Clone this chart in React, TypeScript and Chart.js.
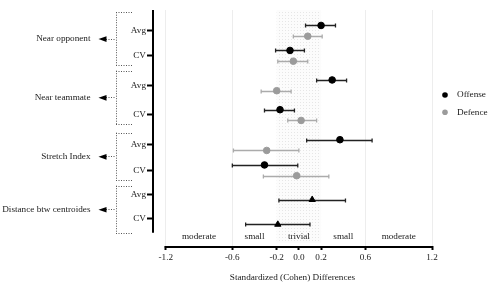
import React, { useEffect, useRef } from "react";
import { Chart, registerables } from "chart.js";

Chart.register(...registerables);

// ---- Data ----
const rowLabels = ["Avg", "CV", "Avg", "CV", "Avg", "CV", "Avg", "CV"];
// category positions of the rows on the (reversed) y scale
const rowPos = [1, 2, 3.18, 4.37, 5.57, 6.58, 7.54, 8.53];

const groupLabels = ["Near opponent", "Near teammate", "Stretch Index", "Distance btw centroides"];
const groupTop = [0.26, 2.6, 5.08, 7.2];
const groupBottom = [2.37, 4.73, 6.97, 9.08];

const offenseMean = [0.2, -0.08, 0.3, -0.17, 0.37, -0.31];
const offenseLo = [0.06, -0.21, 0.16, -0.31, 0.07, -0.6];
const offenseHi = [0.33, 0.05, 0.43, -0.04, 0.66, -0.01];

const defenceMean = [0.08, -0.05, -0.2, 0.02, -0.29, -0.02];
const defenceLo = [-0.05, -0.19, -0.34, -0.1, -0.59, -0.32];
const defenceHi = [0.21, 0.08, -0.07, 0.16, 0.0, 0.27];

const centroidMean = [0.12, -0.19];
const centroidLo = [-0.18, -0.48];
const centroidHi = [0.42, 0.1];

const xTicks = [-1.2, -0.6, -0.2, 0, 0.2, 0.6, 1.2];
const gridAt = [-1.2, -0.6, 0.6, 1.2];
const zoneBounds = [-1.2, -0.6, -0.2, 0.2, 0.6, 1.2];
const zoneLabels = ["moderate", "small", "trivial", "small", "moderate"];
const trivialBand = [-0.2, 0.2];

// ---- Styles ----
const FONT = "'Liberation Serif', 'Times New Roman', serif";
const FS = 9.2;
const TXT = "#1a1a1a";
const OFF_UP = -0.21;
const OFF_DOWN = 0.22;

let bandPattern: CanvasPattern | null = null;
function getPattern(ctx: CanvasRenderingContext2D) {
  if (bandPattern) return bandPattern;
  const c = document.createElement("canvas");
  c.width = 3;
  c.height = 3;
  const g = c.getContext("2d")!;
  g.fillStyle = "#fcfcfc";
  g.fillRect(0, 0, 3, 3);
  g.fillStyle = "#e6e6e6";
  g.fillRect(0, 0, 1, 1);
  bandPattern = ctx.createPattern(c, "repeat");
  return bandPattern;
}

const bandPlugin = {
  id: "band",
  beforeDatasetsDraw(chart: any) {
    const { ctx, chartArea } = chart;
    const xs = chart.scales.x;
    const x1 = xs.getPixelForValue(trivialBand[0]);
    const x2 = xs.getPixelForValue(trivialBand[1]);
    ctx.save();
    ctx.fillStyle = getPattern(ctx) || "#f4f4f4";
    ctx.fillRect(x1, chartArea.top, x2 - x1, chartArea.bottom - 3 - chartArea.top);
    ctx.restore();
  },
};

const errorBarPlugin = {
  id: "errorBars",
  beforeDatasetsDraw(chart: any) {
    const { ctx } = chart;
    const xs = chart.scales.x;
    const ys = chart.scales.y;
    chart.data.datasets.forEach((ds: any) => {
      if (!ds.errLo) return;
      ctx.save();
      ctx.strokeStyle = ds.errColor;
      ctx.lineWidth = 1.3;
      ds.data.forEach((p: any, i: number) => {
        const y = Math.round(ys.getPixelForValue(p.y)) + 0.5;
        const x1 = xs.getPixelForValue(ds.errLo[i]);
        const x2 = xs.getPixelForValue(ds.errHi[i]);
        ctx.beginPath();
        ctx.moveTo(x1, y);
        ctx.lineTo(x2, y);
        ctx.moveTo(x1, y - 2);
        ctx.lineTo(x1, y + 2);
        ctx.moveTo(x2, y - 2);
        ctx.lineTo(x2, y + 2);
        ctx.stroke();
      });
      ctx.restore();
    });
  },
};

const decorPlugin = {
  id: "decor",
  afterDraw(chart: any) {
    const { ctx, chartArea } = chart;
    const xs = chart.scales.x;
    const ys = chart.scales.y;
    const L = chartArea.left;
    ctx.save();
    // y axis line
    ctx.strokeStyle = "#000";
    ctx.lineWidth = 2;
    ctx.beginPath();
    ctx.moveTo(L, chartArea.top);
    ctx.lineTo(L, ys.getPixelForValue(groupBottom[groupBottom.length - 1]));
    ctx.stroke();
    // x axis line
    ctx.beginPath();
    const xa = chartArea.bottom + 1;
    ctx.moveTo(xs.getPixelForValue(xTicks[0]) - 1, xa);
    ctx.lineTo(xs.getPixelForValue(xTicks[xTicks.length - 1]) + 1, xa);
    ctx.stroke();

    // zone labels
    ctx.fillStyle = TXT;
    ctx.font = `${FS}px ${FONT}`;
    ctx.textAlign = "center";
    ctx.textBaseline = "middle";
    zoneLabels.forEach((lab, i) => {
      const cx = xs.getPixelForValue((zoneBounds[i] + zoneBounds[i + 1]) / 2);
      ctx.fillText(lab, cx, chartArea.bottom - 9);
    });

    // group brackets, arrows, labels
    groupLabels.forEach((lab, i) => {
      const t = ys.getPixelForValue(groupTop[i]);
      const b = ys.getPixelForValue(groupBottom[i]);
      const m = (t + b) / 2;
      ctx.strokeStyle = "#555";
      ctx.lineWidth = 1;
      ctx.setLineDash([1, 1.5]);
      ctx.beginPath();
      ctx.moveTo(L - 37 + 0.5, t);
      ctx.lineTo(L - 37 + 0.5, b);
      ctx.moveTo(L - 37, Math.round(t) + 0.5);
      ctx.lineTo(L - 20, Math.round(t) + 0.5);
      ctx.moveTo(L - 37, Math.round(b) + 0.5);
      ctx.lineTo(L - 20, Math.round(b) + 0.5);
      ctx.moveTo(L - 47, Math.round(m) + 0.5);
      ctx.lineTo(L - 37, Math.round(m) + 0.5);
      ctx.stroke();
      ctx.setLineDash([]);
      ctx.fillStyle = "#000";
      ctx.beginPath();
      ctx.moveTo(L - 54.5, m + 0.5);
      ctx.lineTo(L - 46.5, m - 2.3);
      ctx.lineTo(L - 46.5, m + 3.3);
      ctx.closePath();
      ctx.fill();
      ctx.fillStyle = TXT;
      ctx.textAlign = "right";
      ctx.fillText(lab, L - 62.5, m);
    });

    // legend
    const lx = chartArea.right + 13;
    [0, 1].forEach((di, k) => {
      const ds = chart.data.datasets[di];
      const ly = chartArea.top + 85 + k * 17.3;
      ctx.fillStyle = ds.backgroundColor;
      ctx.beginPath();
      ctx.arc(lx, ly, 2.8, 0, Math.PI * 2);
      ctx.fill();
      ctx.fillStyle = TXT;
      ctx.textAlign = "left";
      ctx.fillText(ds.label, lx + 12, ly);
    });
    ctx.restore();
  },
};

export default function App() {
  const ref = useRef<HTMLCanvasElement>(null);
  useEffect(() => {
    document.body.style.margin = "0";
    const canvas = ref.current!;
    const chart = new Chart(canvas, {
      type: "scatter",
      data: {
        datasets: [
          {
            label: "Offense",
            data: offenseMean.map((v, i) => ({ x: v, y: rowPos[i] + OFF_UP })),
            backgroundColor: "#000",
            borderColor: "#000",
            pointRadius: 3.3,
            pointStyle: "circle",
            errLo: offenseLo,
            errHi: offenseHi,
            errColor: "#222",
          } as any,
          {
            label: "Defence",
            data: defenceMean.map((v, i) => ({ x: v, y: rowPos[i] + OFF_DOWN })),
            backgroundColor: "#9b9b9b",
            borderColor: "#9b9b9b",
            pointRadius: 3.3,
            pointStyle: "circle",
            errLo: defenceLo,
            errHi: defenceHi,
            errColor: "#ababab",
          } as any,
          {
            label: "Distance btw centroides",
            data: centroidMean.map((v, i) => ({ x: v, y: rowPos[6 + i] + OFF_DOWN })),
            backgroundColor: "#000",
            borderColor: "#000",
            pointRadius: 3.6,
            pointStyle: "triangle",
            errLo: centroidLo,
            errHi: centroidHi,
            errColor: "#222",
          } as any,
        ],
      },
      options: {
        animation: false,
        responsive: false,
        devicePixelRatio: 1,
        layout: { padding: { left: 120, right: 68, top: 10, bottom: 0 } },
        plugins: { legend: { display: false }, tooltip: { enabled: false } },
        scales: {
          x: {
            type: "linear",
            min: -1.315,
            max: 1.2,
            afterBuildTicks: (s: any) => {
              s.ticks = xTicks.map((v) => ({ value: v }));
            },
            afterFit: (s: any) => {
              s.height = 42;
            },
            border: { display: false },
            grid: {
              drawOnChartArea: true,
              color: (c: any) => (c.tick && gridAt.includes(c.tick.value) ? "#ededed" : "rgba(0,0,0,0)"),
              lineWidth: 1,
              drawTicks: true,
              tickLength: 4,
              tickColor: "#000",
              tickWidth: 2,
            },
            ticks: {
              autoSkip: false,
              maxRotation: 0,
              padding: 2,
              color: TXT,
              font: { family: FONT, size: FS },
              callback: (v: any) => (Number(v) === 0 ? "0.0" : Number(v).toFixed(1)),
            },
            title: {
              display: true,
              text: "Standardized (Cohen) Differences",
              color: TXT,
              font: { family: FONT, size: FS },
              padding: { top: 0, bottom: 4.6 },
            },
          },
          y: {
            type: "linear",
            reverse: true,
            min: 0.172,
            max: 9.612,
            afterBuildTicks: (s: any) => {
              s.ticks = rowPos.map((v) => ({ value: v }));
            },
            afterFit: (s: any) => {
              s.width = 33;
            },
            border: { display: false },
            grid: {
              drawOnChartArea: false,
              drawTicks: true,
              tickLength: 6,
              tickColor: "#000",
              tickWidth: 2,
            },
            ticks: {
              autoSkip: false,
              padding: 1,
              color: TXT,
              font: { family: FONT, size: FS },
              callback: (_v: any, i: number) => rowLabels[i],
            },
          },
        },
      },
      plugins: [bandPlugin, errorBarPlugin, decorPlugin],
    } as any);
    return () => chart.destroy();
  }, []);
  return (
    <div style={{ width: 500, height: 288, background: "#fff" }}>
      <canvas ref={ref} width={500} height={288} />
    </div>
  );
}
